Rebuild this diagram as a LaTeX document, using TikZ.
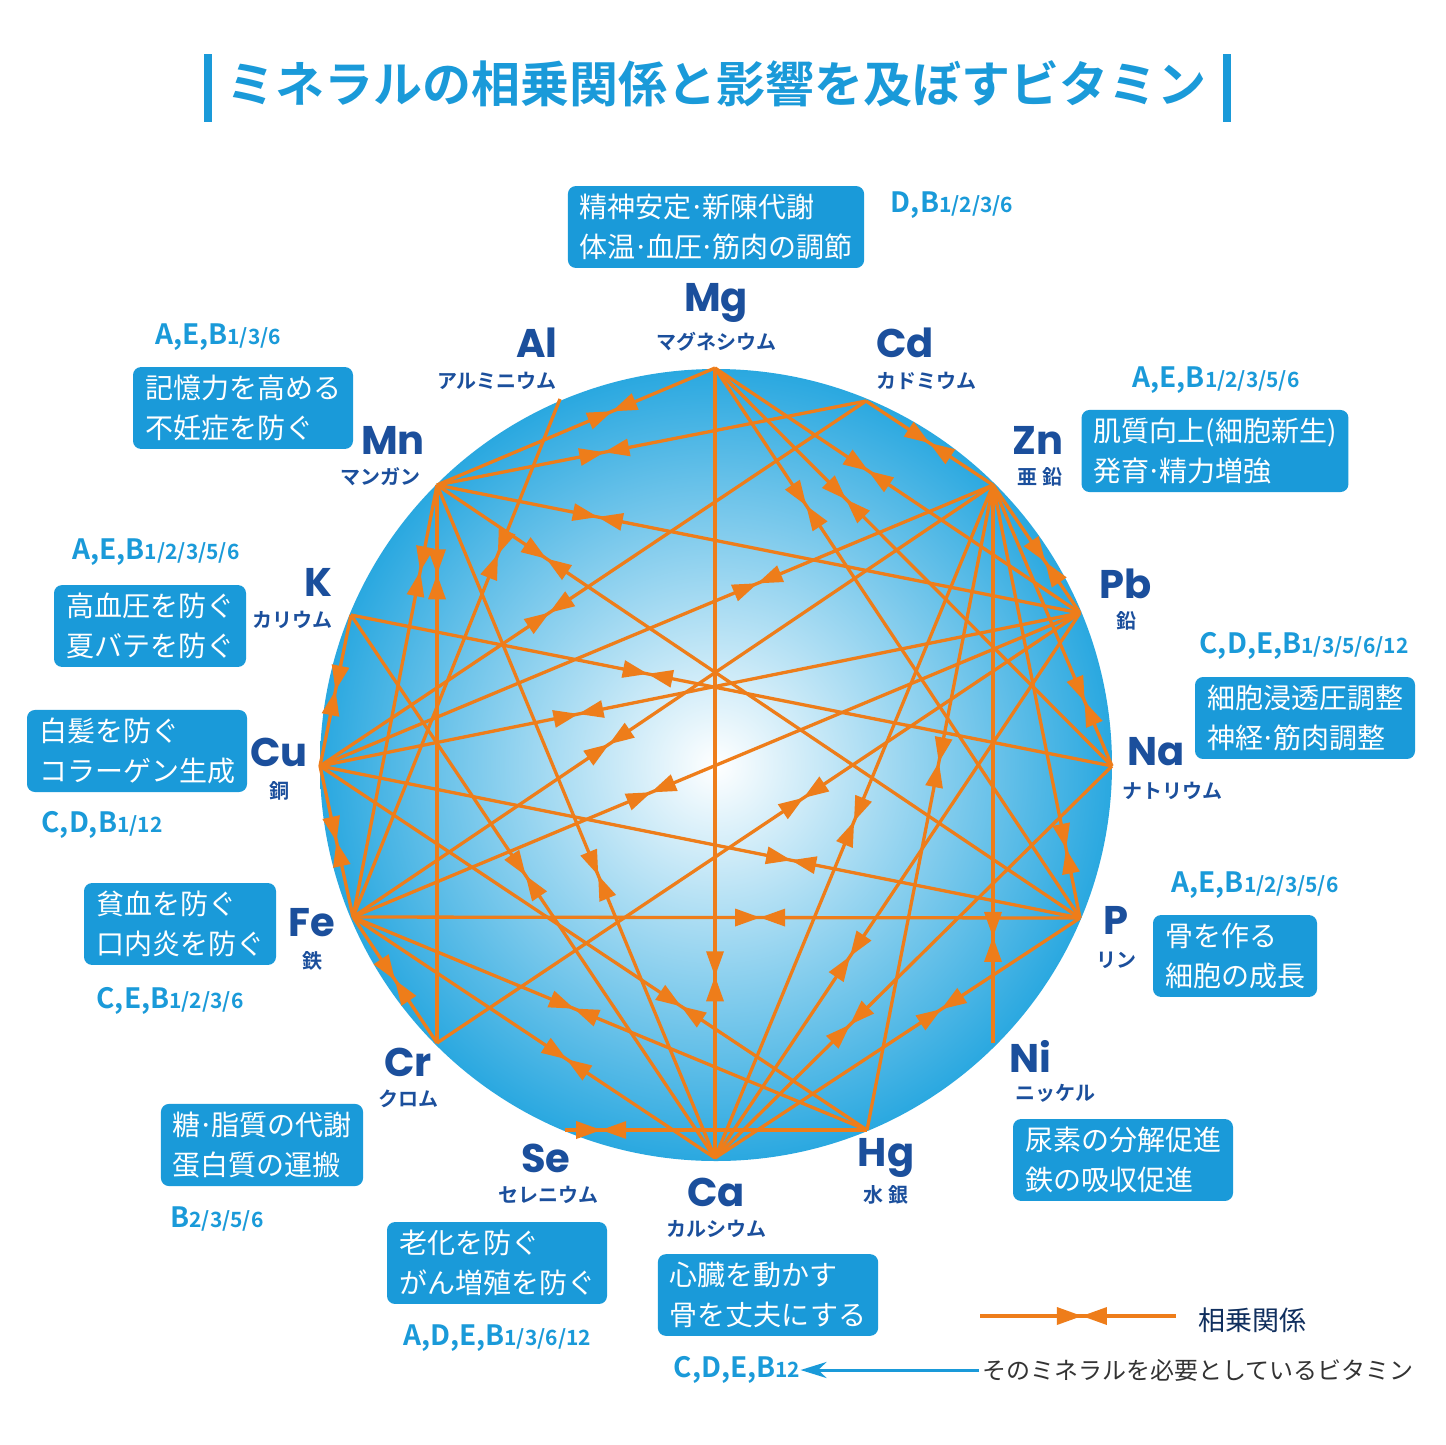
\documentclass[tikz,border=0pt]{standalone}
\usepackage{fontspec}
\setmainfont{Noto Sans CJK JP}[BoldFont={Noto Sans CJK JP Bold}]
\newfontfamily\elfont{Poppins}[BoldFont={Poppins Bold}]
\usetikzlibrary{decorations.markings,arrows.meta}
\definecolor{boxc}{HTML}{1A9AD9}
\definecolor{namec}{HTML}{1B4F9C}
\definecolor{linec}{HTML}{EE7D1A}
\definecolor{ballc}{HTML}{2AA8E0}
\tikzset{
  link/.style={linec,line width=3.3pt},
  syn/.style={postaction={decorate,decoration={markings,mark=at position #1 with {\fill[linec] (0,0)--(-25,9)--(-25,-9)--cycle; \fill[linec] (0,0)--(25,9)--(25,-9)--cycle;}}}},
  sym/.style={font=\elfont\bfseries\fontsize{40}{40}\selectfont,text=namec,inner sep=0pt},
  kana/.style={font=\bfseries\fontsize{20}{22}\selectfont,text=namec,inner sep=0pt},
  effect/.style={rectangle,rounded corners=8pt,fill=boxc,text=white,align=left,font=\fontsize{28}{40}\selectfont,inner xsep=12pt,inner ysep=8pt},
  vit/.style={text=boxc,font=\bfseries\fontsize{28}{30}\selectfont,inner sep=0pt}
}
\newcommand{\vb}[2]{#1{\fontsize{21}{22}\selectfont #2}}
\newcommand{\md}{\kern-0.1em·\kern-0.1em}
\begin{document}
\begin{tikzpicture}[x=1pt,y=-1pt]
\useasboundingbox (0,0) rectangle (1445,1445);
\fill[white] (0,0) rectangle (1445,1445);

% title
\node (title) at (716,84) [text=boxc,font=\bfseries\fontsize{49}{52}\selectfont] {ミネラルの相乗関係と影響を及ぼすビタミン};
\fill[boxc] (204,54) rectangle (212,122);
\fill[boxc] (1223,54) rectangle (1231,122);

% ball
\shade[inner color=white,outer color=ballc] (716,765) circle (396);

% minerals
\coordinate (Mg) at (715,368);
\coordinate (Al) at (560,399);
\coordinate (Cd) at (866,401);
\coordinate (Zn) at (993,485);
\coordinate (Pb) at (1080,613);
\coordinate (Na) at (1112,766);
\coordinate (P) at (1080,918);
\coordinate (Ni) at (993,1043);
\coordinate (Hg) at (867,1130);
\coordinate (Ca) at (715,1158);
\coordinate (Se) at (565,1130);
\coordinate (Cr) at (437,1043);
\coordinate (Fe) at (353,917);
\coordinate (Cu) at (320,766);
\coordinate (K) at (351,615);
\coordinate (Mn) at (437,485);

% links
\foreach \a/\b/\p in {Mg/Ca/0.77, Mg/Mn/0.37, Mg/Pb/0.42, Mg/Na/0.33, Mg/P/0.25,
  Cd/Zn/0.5, Cd/Mn/0.61, Cd/Cu/0.58, Mn/Pb/0.25, Mn/P/0.17, Mn/Fe/0.2, Mn/Cr/0.16,
  Mn/Ca/0.58, Zn/Cu/0.35, Zn/Fe/0.6, Zn/Ni/0.81, Zn/P/0.84, Zn/Pb/0.6, Zn/Na/0.77,
  Zn/Hg/0.43, Zn/Ca/0.5, K/Na/0.39, K/Cu/0.5, Cu/Fe/0.5, K/Ca/0.48, Pb/Cu/0.66,
  Pb/Fe/0.59, Pb/Cr/0.43, Pb/Ca/0.63, Cu/P/0.62, Cu/Hg/0.66, Fe/P/0.56, Fe/Hg/0.43,
  Fe/Ca/0.59, Fe/Cr/0.5, Al/Fe/0.3, Se/Hg/0.12, Na/Ca/0.66, P/Ca/0.38}
  \draw[link,syn=\p] (\a) -- (\b);

% labels
\node (mg) at (716,303) [sym] {Mg};
\node at (716,342) [kana] {マグネシウム};
\node (al) at (537,343) [sym] {Al};
\node at (497,381) [kana] {アルミニウム};
\node (cd) at (905,343) [sym] {Cd};
\node at (926,381) [kana] {カドミウム};
\node (zn) at (1038,440) [sym] {Zn};
\node at (1040,477) [kana] {亜 鉛};
\node (mn) at (393,440) [sym] {Mn};
\node at (380,477) [kana] {マンガン};
\node (k) at (318,582) [sym] {K};
\node at (292,620) [kana] {カリウム};
\node (pb) at (1126,584) [sym] {Pb};
\node at (1126,621) [kana] {鉛};
\node (cu) at (279,752) [sym] {Cu};
\node at (279,791) [kana] {銅};
\node (na) at (1156,752) [sym] {Na};
\node at (1172,791) [kana] {ナトリウム};
\node (fe) at (312,923) [sym] {Fe};
\node at (312,961) [kana] {鉄};
\node (p) at (1116,920) [sym] {P};
\node at (1116,960) [kana] {リン};
\node (cr) at (408,1062) [sym] {Cr};
\node at (408,1099) [kana] {クロム};
\node (ni) at (1030,1056) [sym] {Ni};
\node at (1055,1093) [kana] {ニッケル};
\node (se) at (546,1158) [sym] {Se};
\node at (548,1195) [kana] {セレニウム};
\node (hg) at (886,1158) [sym] {Hg};
\node at (886,1195) [kana] {水 銀};
\node (ca) at (716,1192) [sym] {Ca};
\node at (716,1229) [kana] {カルシウム};

% effects and vitamins
\node (mgbox) at (716,227) [effect] {精神安定\md 新陳代謝\\体温\md 血圧\md 筋肉の調節};
\node (mgvit) at (952,205) [vit] {\vb{D,B}{1/2/3/6}};
\node (mnbox) at (243,408) [effect] {記憶力を高める\\不妊症を防ぐ};
\node (mnvit) at (218,337) [vit] {\vb{A,E,B}{1/3/6}};
\node (znbox) at (1215,451) [effect] {肌質向上(細胞新生)\\発育\md 精力増強};
\node (znvit) at (1216,380) [vit] {\vb{A,E,B}{1/2/3/5/6}};
\node (kbox) at (150,626) [effect] {高血圧を防ぐ\\夏バテを防ぐ};
\node (kvit) at (156,552) [vit] {\vb{A,E,B}{1/2/3/5/6}};
\node (nabox) at (1305,718) [effect] {細胞浸透圧調整\\神経\md 筋肉調整};
\node (navit) at (1304,646) [vit] {\vb{C,D,E,B}{1/3/5/6/12}};
\node (cubox) at (137,751) [effect] {白髪を防ぐ\\コラーゲン生成};
\node (cuvit) at (102,825) [vit] {\vb{C,D,B}{1/12}};
\node (febox) at (180,924) [effect] {貧血を防ぐ\\口内炎を防ぐ};
\node (fevit) at (170,1001) [vit] {\vb{C,E,B}{1/2/3/6}};
\node (pbox) at (1235,956) [effect] {骨を作る\\細胞の成長};
\node (pvit) at (1255,885) [vit] {\vb{A,E,B}{1/2/3/5/6}};
\node (crbox) at (262,1145) [effect] {糖\md 脂質の代謝\\蛋白質の運搬};
\node (crvit) at (217,1219) [vit] {\vb{B}{2/3/5/6}};
\node (nibox) at (1123,1160) [effect] {尿素の分解促進\\鉄の吸収促進};
\node (sebox) at (497,1263) [effect] {老化を防ぐ\\がん増殖を防ぐ};
\node (sevit) at (497,1338) [vit] {\vb{A,D,E,B}{1/3/6/12}};
\node (cabox) at (768,1295) [effect] {心臓を動かす\\骨を丈夫にする};
\node (cavit) at (737,1370) [vit] {\vb{C,D,E,B}{12}};

% legend
\coordinate (lga) at (980,1316);
\coordinate (lgb) at (1176,1316);
\draw[link,syn=0.52] (lga) -- (lgb);
\node (lgsyn) at (1252,1320) [text=namec!60!black,font=\fontsize{27}{30}\selectfont] {相乗関係};
\node (lgvit) at (1198,1370) [text=black!80,font=\fontsize{24}{28}\selectfont] {そのミネラルを必要としているビタミン};
\draw[boxc,line width=3pt,-{Stealth[length=26pt,width=16pt]}] (lgvit.west) -- (cavit.east);

\end{tikzpicture}
\end{document}
